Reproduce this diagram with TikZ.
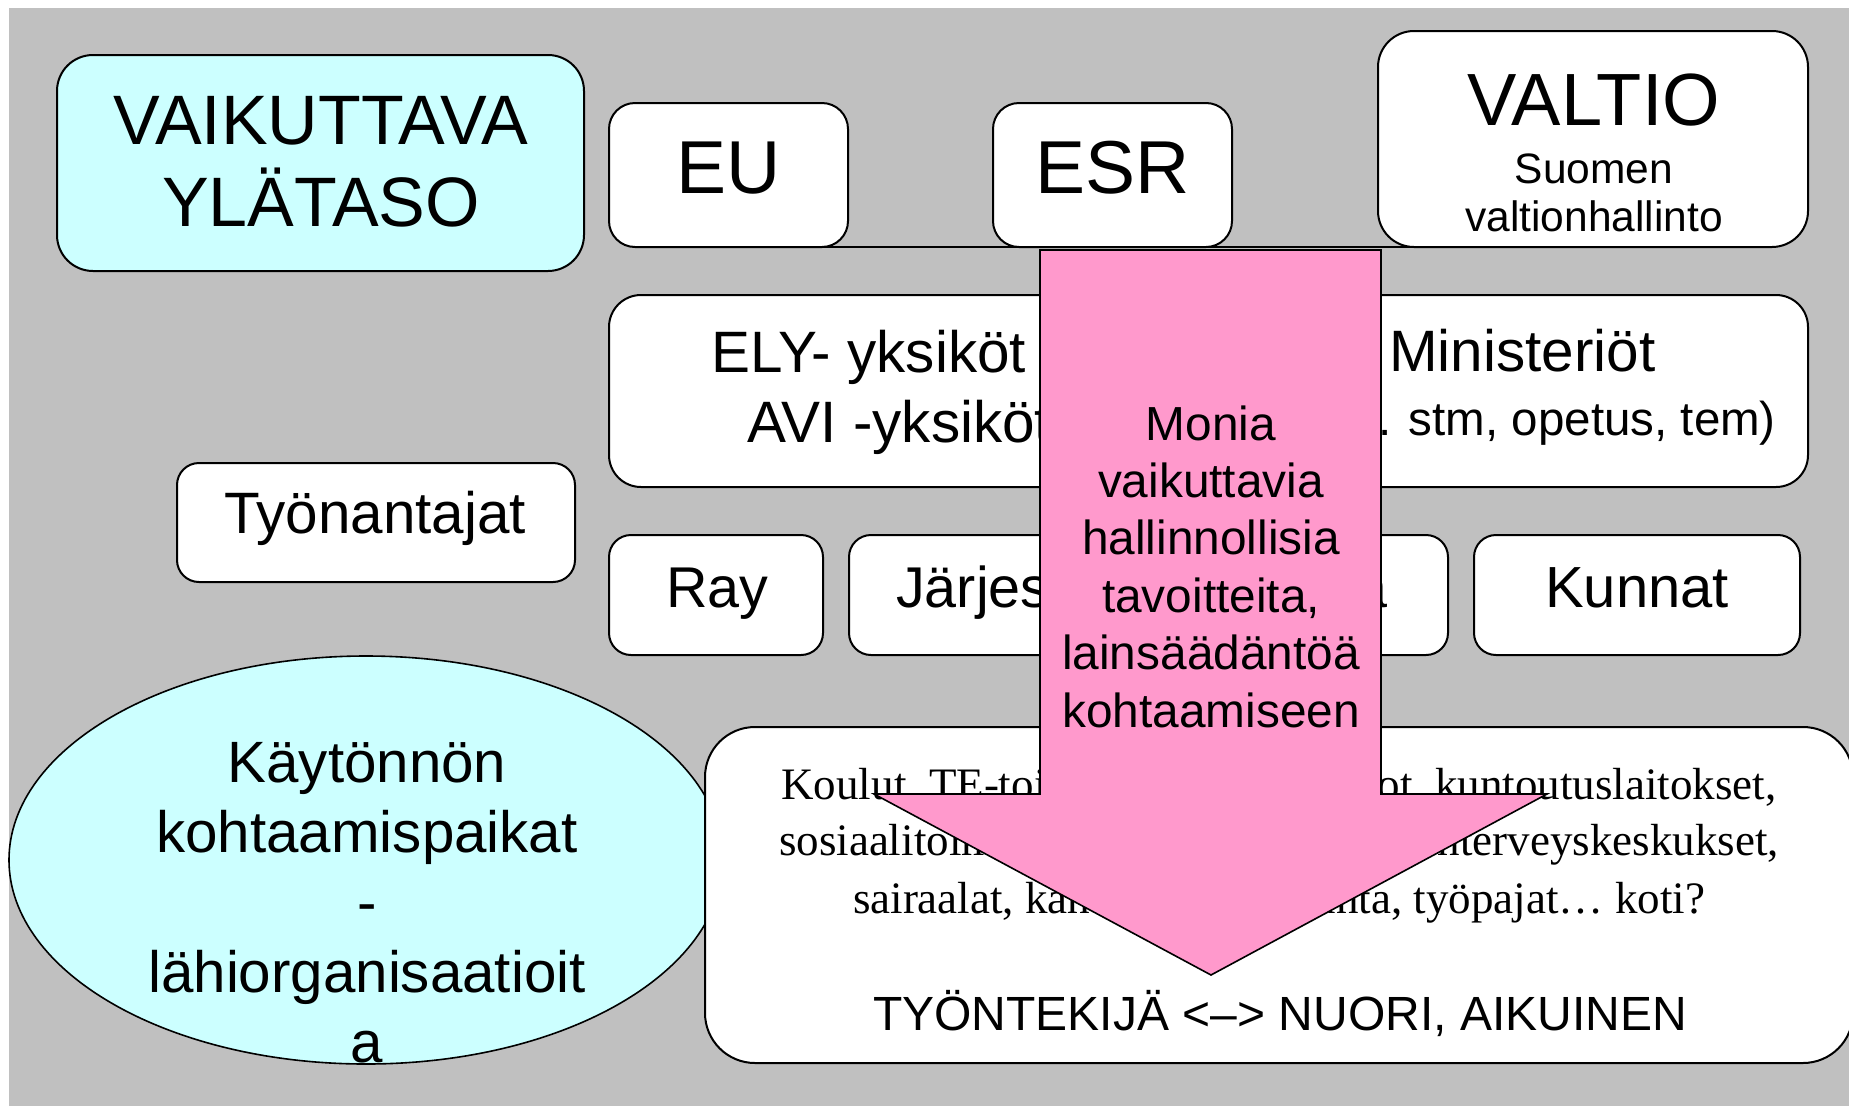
\documentclass[tikz,border=0pt]{standalone}
\usepackage{fontspec}
\setmainfont{Liberation Sans}
\newfontfamily\serifx{Liberation Serif}
\usetikzlibrary{shapes.geometric,fit}
\definecolor{bggray}{HTML}{C0C0C0}
\definecolor{lcyan}{HTML}{CCFFFF}
\definecolor{apink}{HTML}{FF99CC}
\newcommand\fsz[1]{\fontsize{#1bp}{#1bp}\selectfont}
\tikzset{
  box/.style={draw=black, line width=2bp, fill=white, inner sep=0pt, rounded corners=#1},
  box/.default=24bp,
  sans/.style={inner sep=0pt, anchor=base, font=\fsz{#1}},
  serif/.style={inner sep=0pt, anchor=base, font=\serifx\fsz{#1}},
}
\begin{document}
\begin{tikzpicture}[x=1bp,y=-1bp]
\clip (0,0) rectangle (1849,1106);
\fill[white] (0,0) rectangle (1849,1106);
\fill[bggray] (9,8) rectangle (1849,1106);
% line under top row
\coordinate (hlA) at (755,247);
\coordinate (hlB) at (1641,247);
\draw[line width=2bp] (hlA) -- (hlB);
% top row
\node[box=36bp, fill=lcyan, fit={(57,55)(584,271)}] (ylataso) {};
\node[sans=70] (yl1) at (321,144) {VAIKUTTAVA};
\node[sans=70] (yl2) at (321,226) {YLÄTASO};
\node[box=26bp, fit={(609,103)(848,247)}] (eu) {};
\node[sans=75] (eut) at (728.5,193) {EU};
\node[box=26bp, fit={(993,103)(1232,247)}] (esr) {};
\node[sans=75] (esrt) at (1112.5,193) {ESR};
\node[box=36bp, fit={(1378,31)(1808,247)}] (valtio) {};
\node[sans=74] (valt1) at (1594,125) {VALTIO};
\node[sans=42.5] (valt2) at (1594,183) {Suomen};
\node[sans=42.5] (valt3) at (1594,231) {valtionhallinto};
% second row
\node[box=32bp, fit={(609,295)(1187,487)}] (ely) {};
\node[sans=58.4, anchor=base west] (ely1) at (711,372) {ELY- yksiköt};
\node[sans=58.4, anchor=base west] (ely2) at (747,442) {AVI -yksiköt};
\node[box=32bp, fit={(1243,295)(1808,487)}] (min) {};
\node[sans=58.4, anchor=base west] (min1) at (1389,371) {Ministeriöt};
\node[sans=47.5, anchor=base east] (min2) at (1776,435) {(esim. stm, opetus, tem)};
% third row
\node[box=22bp, fit={(177,463)(575,582)}] (tyon) {};
\node[sans=58.4] (tyont) at (375,533) {Työnantajat};
\node[box=22bp, fit={(609,535)(823,655)}] (ray) {};
\node[sans=57.5] (rayt) at (717.5,607) {Ray};
\node[box=22bp, fit={(849,535)(1160,655)}] (jarj) {};
\node[sans=57.5, anchor=base west] (jarjt) at (896,607) {Järjestöt};
\node[box=22bp, fit={(1210,535)(1448,655)}] (kela) {};
\node[sans=57.5, anchor=base east] (kelat) at (1388,607) {Kela};
\node[box=22bp, fit={(1474,535)(1800,655)}] (kunnat) {};
\node[sans=58] (kunnatt) at (1637,607) {Kunnat};
% ellipse
\node[draw=black, line width=1.6bp, fill=lcyan, ellipse, inner sep=0pt,
      minimum width=714bp, minimum height=408bp] (ell) at (366,860) {};
\node[sans=58.3] (el1) at (367,782) {Käytönnön};
\node[sans=58.3] (el2) at (367,852) {kohtaamispaikat};
\node[sans=58.3] (el3) at (367,922) {-};
\node[sans=58.3] (el4) at (367,992) {lähiorganisaatioit};
\node[sans=58.3] (el5) at (367,1062) {a};
% bottom box
\node[box=50bp, fit={(705,727)(1853,1063)}] (paikat) {};
\node[serif=45] (bl1) at (1279,799) {\makebox[995bp]{Koulut, TE-toimistot,\hfill nuorisotalot, kuntoutuslaitokset,}};
\node[serif=45] (bl2) at (1279,855) {\makebox[1000bp]{sosiaalitoimistot, nuorisotilat,\hfill mielenterveyskeskukset,}};
\node[serif=45] (bl3) at (1279,913) {\makebox[852bp]{sairaalat, kahvilat,\hfill liikunta, työpajat… koti?}};
\node[sans=48] (bl4) at (1280,1030) {TYÖNTEKIJÄ <–> NUORI, AIKUINEN};
% big arrow
\draw[line width=1.6bp, fill=apink] (1040,250) -- (1381,250) -- (1381,794) -- (1547,794)
  -- (1211,975) -- (874,794) -- (1040,794) -- cycle;
\node[sans=47.8] (ar1) at (1211,440) {Monia};
\node[sans=47.8] (ar2) at (1211,497.4) {vaikuttavia};
\node[sans=47.8] (ar3) at (1211,554.8) {hallinnollisia};
\node[sans=47.8] (ar4) at (1211,612.2) {tavoitteita,};
\node[sans=47.8] (ar5) at (1211,669.6) {lainsäädäntöä};
\node[sans=47.8] (ar6) at (1211,727) {kohtaamiseen};
\end{tikzpicture}
\end{document}
